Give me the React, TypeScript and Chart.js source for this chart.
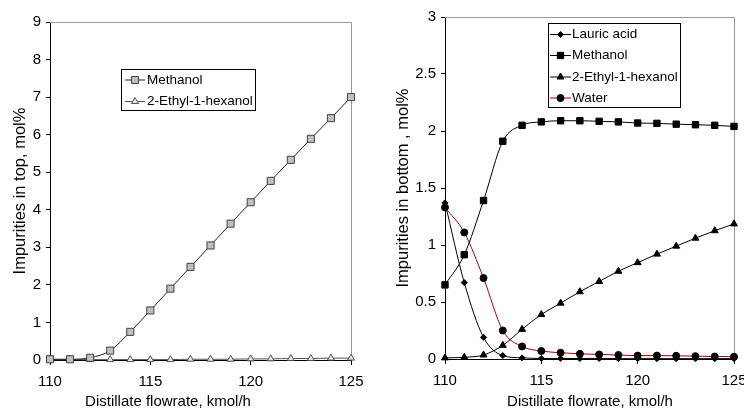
import React, { useEffect, useRef } from 'react';
import { Chart, registerables } from 'chart.js';
import { drawPoint } from 'chart.js/helpers';

Chart.register(...registerables);

const FONT = '"Liberation Sans", Arial, sans-serif';
Chart.defaults.font.family = FONT;
Chart.defaults.color = '#000';

// ---------- data ----------
const flowrate = [110, 111, 112, 113, 114, 115, 116, 117, 118, 119, 120, 121, 122, 123, 124, 125];
const xTickValues = [110, 115, 120, 125];

const topMethanol = [0.02, 0.02, 0.06, 0.25, 0.75, 1.32, 1.9, 2.48, 3.05, 3.63, 4.2, 4.77, 5.33, 5.89, 6.44, 7.0];
const topEthylhexanol = [0.01, 0.01, 0.01, 0.01, 0.01, 0.01, 0.01, 0.02, 0.02, 0.02, 0.03, 0.03, 0.04, 0.04, 0.05, 0.05];

const bottomLauric = [1.37, 0.67, 0.19, 0.03, 0.01, 0.005, 0.005, 0.004, 0.004, 0.003, 0.003, 0.003, 0.003, 0.003, 0.003, 0.003];
const bottomMethanol = [0.65, 0.915, 1.39, 1.91, 2.05, 2.08, 2.09, 2.09, 2.085, 2.08, 2.07, 2.067, 2.06, 2.055, 2.05, 2.04];
const bottomEthylhexanol = [0.01, 0.015, 0.035, 0.12, 0.26, 0.39, 0.49, 0.59, 0.68, 0.77, 0.845, 0.92, 0.99, 1.06, 1.125, 1.185];
const bottomWater = [1.33, 1.11, 0.71, 0.25, 0.11, 0.07, 0.055, 0.045, 0.04, 0.035, 0.03, 0.03, 0.028, 0.025, 0.022, 0.02];

const topTicks = [0, 9, 1];
const bottomTicks = [0, 3, 0.5];

const xTitle = 'Distillate flowrate, kmol/h';

const pts = (ys: number[]) => flowrate.map((x, i) => ({ x, y: ys[i] }));

// ---------- plugins ----------
const frameLine = {
  id: 'frameLine',
  beforeDatasetsDraw(chart: any) {
    const { ctx, chartArea } = chart;
    const r = Math.round(chartArea.right) + 0.5;
    const t = Math.round(chartArea.top) + 0.5;
    ctx.save();
    ctx.strokeStyle = '#999999';
    ctx.lineWidth = 1;
    ctx.beginPath();
    ctx.moveTo(chartArea.left, t);
    ctx.lineTo(r, t);
    ctx.lineTo(r, chartArea.bottom);
    ctx.stroke();
    ctx.restore();
  },
};

const xAxisTitle = {
  id: 'xAxisTitle',
  afterDraw(chart: any, _args: any, opts: any) {
    const { ctx } = chart;
    ctx.save();
    ctx.fillStyle = '#000';
    ctx.font = `${opts.fontSize}px ${FONT}`;
    ctx.textAlign = 'center';
    ctx.textBaseline = 'middle';
    ctx.fillText(opts.text, opts.cx, opts.cy);
    ctx.restore();
  },
};

const boxLegend = {
  id: 'boxLegend',
  afterDraw(chart: any, _args: any, opts: any) {
    const { ctx } = chart;
    const { x, y, w, h, rows, lineX0, lineX1, textX, fontSize } = opts;
    ctx.save();
    ctx.fillStyle = '#fff';
    ctx.fillRect(x, y, w, h);
    ctx.strokeStyle = '#000';
    ctx.lineWidth = 1;
    ctx.strokeRect(x + 0.5, y + 0.5, w, h);
    chart.data.datasets.forEach((ds: any, i: number) => {
      const ry = rows[i];
      ctx.strokeStyle = ds.borderColor;
      ctx.lineWidth = ds.borderWidth;
      ctx.beginPath();
      ctx.moveTo(lineX0, ry);
      ctx.lineTo(lineX1, ry);
      ctx.stroke();
      ctx.fillStyle = ds.pointBackgroundColor;
      ctx.strokeStyle = ds.pointBorderColor;
      ctx.lineWidth = ds.pointBorderWidth;
      drawPoint(ctx, { pointStyle: ds.pointStyle, radius: ds.pointRadius, borderWidth: ds.pointBorderWidth, rotation: 0 } as any, (lineX0 + lineX1) / 2, ry);
      ctx.fillStyle = '#000';
      ctx.font = `${fontSize}px ${FONT}`;
      ctx.textBaseline = 'middle';
      ctx.textAlign = 'left';
      ctx.fillText(ds.label, textX, ry);
    });
    ctx.restore();
  },
};

function makeDataset(label: string, ys: number[], line: string, style: string, radius: number, fill: string, border: string) {
  return {
    label,
    data: pts(ys),
    borderColor: line,
    borderWidth: 1,
    pointStyle: style,
    pointRadius: radius,
    pointHoverRadius: radius,
    pointBackgroundColor: fill,
    pointBorderColor: border,
    pointBorderWidth: 1,
    cubicInterpolationMode: 'monotone',
    clip: false,
  };
}

function makeConfig(opts: {
  datasets: any[];
  yTitle: string;
  yRange: number[];
  yWidth: number;
  yTitlePad: number;
  padding: { left: number; right: number; top: number; bottom: number };
  xHeight: number;
  xTitleCx: number;
  legend: any;
}) {
  const [ymin, ymax, ystep] = opts.yRange;
  return {
    type: 'line',
    data: { datasets: opts.datasets },
    plugins: [frameLine, boxLegend, xAxisTitle],
    options: {
      responsive: false,
      animation: false,
      layout: { padding: opts.padding },
      plugins: {
        legend: { display: false },
        tooltip: { enabled: false },
        boxLegend: opts.legend,
        xAxisTitle: { text: xTitle, cx: opts.xTitleCx, cy: 402, fontSize: 15 },
      },
      scales: {
        x: {
          type: 'linear',
          min: 110,
          max: 125,
          afterBuildTicks: (s: any) => {
            s.ticks = xTickValues.map((v) => ({ value: v }));
          },
          ticks: { font: { size: 15 }, color: '#000', padding: 8, maxRotation: 0 },
          grid: { drawOnChartArea: false, drawTicks: true, tickLength: 5, color: '#000' },
          border: { display: true, color: '#000', width: 1 },
          title: { display: false },
          afterFit: (s: any) => {
            s.height = opts.xHeight;
            s.paddingRight = 0;
            s.paddingLeft = 0;
          },
        },
        y: {
          type: 'linear',
          min: ymin,
          max: ymax,
          ticks: { stepSize: ystep, font: { size: 15 }, color: '#000', padding: 5, callback: (v: any) => String(v) },
          grid: { drawOnChartArea: false, drawTicks: true, tickLength: 4, color: '#000' },
          border: { display: true, color: '#000', width: 1 },
          title: { display: true, text: opts.yTitle, font: { size: 16.5 }, color: '#000', padding: { top: opts.yTitlePad, bottom: 0 } },
          afterFit: (s: any) => {
            s.width = opts.yWidth;
            s.paddingTop = 0;
            s.paddingBottom = 0;
          },
        },
      },
    },
  };
}

function ChartCanvas({ config, left }: { config: any; left: number }) {
  const ref = useRef<HTMLCanvasElement>(null);
  useEffect(() => {
    if (!ref.current) return;
    const chart = new Chart(ref.current, config);
    return () => chart.destroy();
  }, []);
  return (
    <div style={{ position: 'absolute', left, top: 0, width: 372, height: 412 }}>
      <canvas ref={ref} width={372} height={412} style={{ width: 372, height: 412, display: 'block' }} />
    </div>
  );
}

export default function App() {
  const leftConfig = makeConfig({
    datasets: [
      makeDataset('Methanol', topMethanol, '#202020', 'rect', 5, '#c0c0c0', '#404040'),
      makeDataset('2-Ethyl-1-hexanol', topEthylhexanol, '#505050', 'triangle', 4, '#e6e6e6', '#505050'),
    ],
    yTitle: 'Impurities in top, mol%',
    yRange: topTicks,
    yWidth: 50,
    yTitlePad: 11,
    padding: { left: 0, right: 21, top: 22, bottom: 0 },
    xHeight: 52,
    xTitleCx: 168,
    legend: { x: 121, y: 69, w: 134, h: 41, rows: [80, 101.5], lineX0: 125, lineX1: 145, textX: 147, fontSize: 13.5 },
  });
  const rightConfig = makeConfig({
    datasets: [
      makeDataset('Lauric acid', bottomLauric, '#000', 'rectRot', 3, '#000', '#000'),
      makeDataset('Methanol', bottomMethanol, '#000', 'rect', 4.5, '#000', '#000'),
      makeDataset('2-Ethyl-1-hexanol', bottomEthylhexanol, '#000', 'triangle', 4, '#000', '#000'),
      makeDataset('Water', bottomWater, '#a00000', 'circle', 3.5, '#000', '#000'),
    ],
    yTitle: 'Impurities in bottom , mol%',
    yRange: bottomTicks,
    yWidth: 73,
    yTitlePad: 22,
    padding: { left: 0, right: 10, top: 17, bottom: 0 },
    xHeight: 53,
    xTitleCx: 218,
    legend: { x: 176, y: 23, w: 132, h: 84, rows: [34.5, 55.5, 77, 98], lineX0: 178, lineX1: 199, textX: 200, fontSize: 13.5 },
  });
  return (
    <div style={{ position: 'fixed', left: 0, top: 0, width: 744, height: 412, background: '#fff' }}>
      <ChartCanvas config={leftConfig} left={0} />
      <ChartCanvas config={rightConfig} left={372} />
    </div>
  );
}
